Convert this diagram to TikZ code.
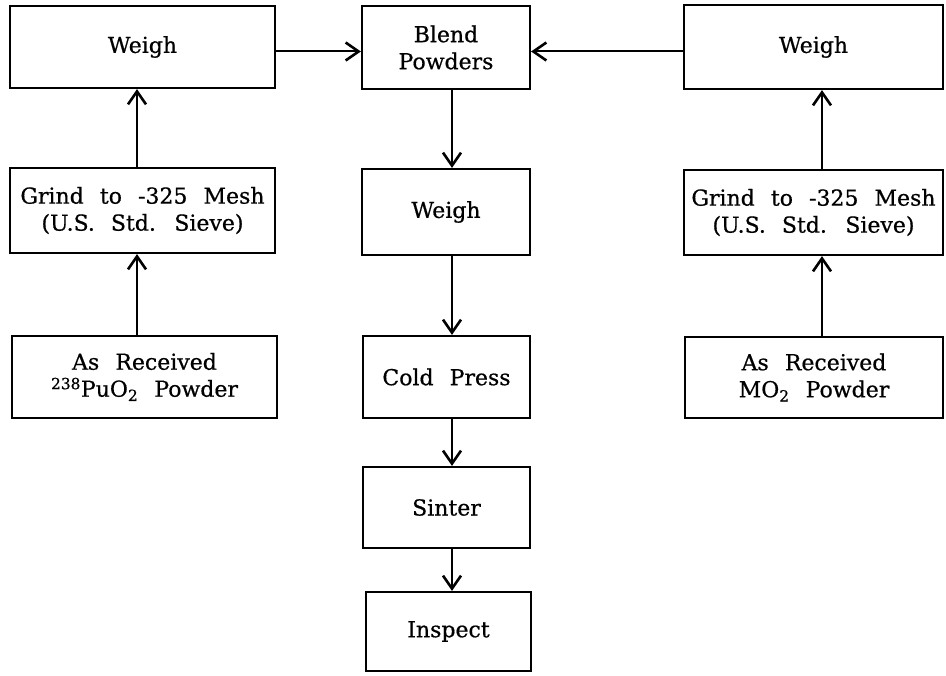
\documentclass[tikz,border=0pt]{standalone}
\usepackage{fontspec}
\setmainfont[WordSpace=2.3,FakeBold=0.6]{DejaVu Serif}
\usetikzlibrary{arrows.meta}
\begin{document}
\begin{tikzpicture}[x=1pt,y=-1pt,
  box/.style={draw, line width=2.2pt, rectangle, inner sep=0pt, align=center,
    font=\fontsize{22}{27}\selectfont},
  arr/.style={line width=2pt, -{Straight Barb[length=13pt,width=18pt,line width=2.6pt]}}]
\useasboundingbox (0,0) rectangle (946,676);
% left column
\node[box, minimum width=265pt, minimum height=82pt] (LW) at (142.5,47) {Weigh};
\node[box, minimum width=265pt, minimum height=85pt] (LG) at (142.5,210.5) {Grind to -325 Mesh\\(U.S. Std. Sieve)};
\node[box, minimum width=265pt, minimum height=82pt] (LA) at (144.5,377) {As Received\\\textsuperscript{238}PuO\textsubscript{2} Powder};
% center column
\node[box, minimum width=168pt, minimum height=83pt] (B) at (446,47.5) {Blend\\Powders};
\node[box, minimum width=168pt, minimum height=86pt] (CW) at (446,212) {Weigh};
\node[box, minimum width=167pt, minimum height=82pt] (CP) at (446.5,377) {Cold Press};
\node[box, minimum width=167pt, minimum height=81pt] (S) at (446.5,507.5) {Sinter};
\node[box, minimum width=165pt, minimum height=79pt] (I) at (448.5,631.5) {Inspect};
% right column
\node[box, minimum width=259pt, minimum height=84pt] (RW) at (813.5,47) {Weigh};
\node[box, minimum width=259pt, minimum height=85pt] (RG) at (813.5,212.5) {Grind to -325 Mesh\\(U.S. Std. Sieve)};
\node[box, minimum width=258pt, minimum height=81pt] (RA) at (814,377.5) {As Received\\MO\textsubscript{2} Powder};
% column guide coordinates
\coordinate (lx) at (137,0);
\coordinate (cx) at (452,0);
\coordinate (rx) at (822,0);
\coordinate (ty) at (0,51.5);
% connectors
\draw[arr] (LW.east |- ty) -- (B.west |- ty);
\draw[arr] (RW.west |- ty) -- (B.east |- ty);
\draw[arr] (LG.north -| lx) -- (LW.south -| lx);
\draw[arr] (LA.north -| lx) -- (LG.south -| lx);
\draw[arr] (RG.north -| rx) -- (RW.south -| rx);
\draw[arr] (RA.north -| rx) -- (RG.south -| rx);
\draw[arr] (B.south -| cx) -- (CW.north -| cx);
\draw[arr] (CW.south -| cx) -- (CP.north -| cx);
\draw[arr] (CP.south -| cx) -- (S.north -| cx);
\draw[arr] (S.south -| cx) -- (I.north -| cx);
\end{tikzpicture}
\end{document}
